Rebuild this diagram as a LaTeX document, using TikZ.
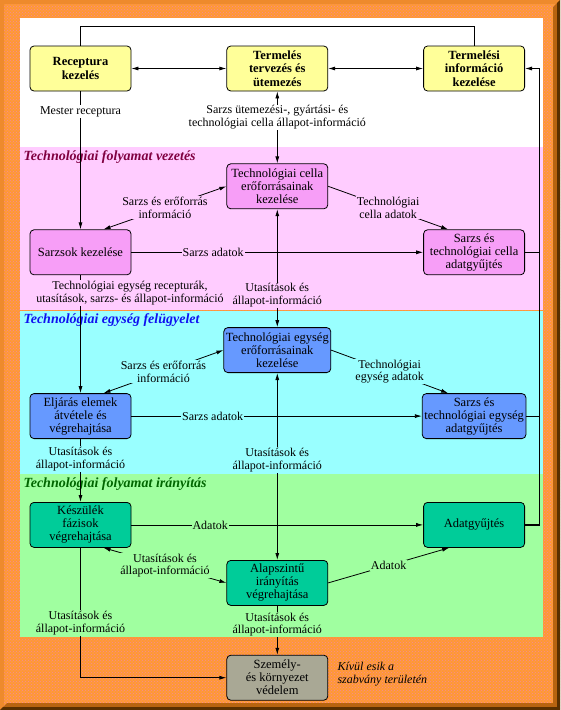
\documentclass[tikz,border=0pt]{standalone}
\usepackage{fontspec}
\setmainfont{Liberation Serif}
\usepackage{tikz}
\usetikzlibrary{arrows.meta,positioning,patterns}

\definecolor{framebg}{HTML}{FF9933}
\definecolor{framedot}{HTML}{F5889C}
\definecolor{edgedark}{HTML}{5A3000}
\definecolor{edgemid}{HTML}{B86410}
\definecolor{edgelight}{HTML}{EE8A2C}
\definecolor{topyellow}{HTML}{FFFF99}
\definecolor{pinkbg}{HTML}{FFCCFF}
\definecolor{pinkbox}{HTML}{F79EF7}
\definecolor{pinktxt}{HTML}{800040}
\definecolor{cyanbg}{HTML}{99FFFF}
\definecolor{bluebox}{HTML}{6699FF}
\definecolor{bluetxt}{HTML}{1010F0}
\definecolor{greenbg}{HTML}{A0FFA0}
\definecolor{tealbox}{HTML}{00CC99}
\definecolor{greentxt}{HTML}{006600}
\definecolor{graybox}{HTML}{A9A895}

\begin{document}
\begin{tikzpicture}[
  x=1pt, y=-1pt,
  font=\fontsize{12}{12.5}\selectfont,
  box/.style={draw, rounded corners=4pt, align=center, inner sep=2pt, minimum width=101pt, minimum height=45pt, line width=0.8pt, font=\fontsize{12.5}{13}\selectfont},
  topbox/.style={box, fill=topyellow, font=\fontsize{12.5}{13.5}\selectfont\bfseries},
  arr/.style={-{Latex[length=7pt,width=4pt]}, line width=0.8pt},
  arrs/.style={{Latex[length=7pt,width=4pt]}-{Latex[length=7pt,width=4pt]}, line width=0.8pt},
  lbl/.style={align=center, inner sep=1pt},
  band/.style={anchor=west, font=\fontsize{14}{15}\selectfont\bfseries\itshape}
]
  \useasboundingbox (0,0) rectangle (560,710);
  \fill[framebg] (0,0) rectangle (560,710);
  \fill[pattern=crosshatch dots, pattern color=framedot] (0,0) rectangle (560,710);
  \fill[edgelight] (0,0) -- (560,0) -- (556,4) -- (4,4) -- (4,706) -- (0,710) -- cycle;
  \fill[edgemid] (560,0) -- (560,710) -- (0,710) -- (7,703) -- (553,703) -- (553,7) -- cycle;
  \fill[edgedark] (560,0) -- (560,710) -- (0,710) -- (3,707) -- (557,707) -- (557,3) -- cycle;
  \fill[white] (20,18) rectangle (543,147);
  \fill[pinkbg] (20,147) rectangle (543,310);
  \fill[cyanbg] (20,311) rectangle (543,474);
  \fill[greenbg] (20,474) rectangle (543,637);

  \node[band, text=pinktxt] (lvez) at (20,157) {Technológiai folyamat vezetés};
  \node[band, text=bluetxt] (lfel) at (20,320) {Technológiai egység felügyelet};
  \node[band, text=greentxt] (lira) at (20,484) {Technológiai folyamat irányítás};

  \node[topbox] (rec) at (80.5,68.5) {Receptura\\kezelés};
  \node[topbox, right=95pt of rec] (terv) {Termelés\\tervezés és\\ütemezés};
  \node[topbox, right=95pt of terv] (info) {Termelési\\információ\\kezelése};

  \node[box, fill=pinkbox, below=72pt of terv] (cella) {Technológiai cella\\erőforrásainak\\kezelése};
  \node[box, fill=pinkbox, below=138pt of rec] (sarzs) {Sarzsok kezelése};
  \node[box, fill=pinkbox, below=138pt of info] (cadat) {Sarzs és\\technológiai cella\\adatgyűjtés};

  \node[box, fill=bluebox, below=118pt of cella] (egys) {Technológiai egység\\erőforrásainak\\kezelése};
  \node[box, fill=bluebox, below=118pt of sarzs] (eljaras) {Eljárás elemek\\átvétele és\\végrehajtása};
  \node[box, fill=bluebox, below=118pt of cadat] (eadat) {Sarzs és\\technológiai egység\\adatgyűjtés};

  \node[box, fill=tealbox, below=63pt of eljaras] (kesz) {Készülék\\fázisok\\végrehajtása};
  \node[box, fill=tealbox, below=63pt of eadat] (adat) {Adatgyűjtés};
  \node[box, fill=tealbox, below=187pt of egys] (alap) {Alapszintű\\irányítás\\végrehajtása};
  \node[box, fill=graybox, below=49pt of alap] (szem) {Személy-\\és környezet\\védelem};
  \node[anchor=west, align=left, font=\fontsize{12}{13}\selectfont\itshape] (kivul) at (334,674) {Kívül esik a\\szabvány területén};

  \coordinate (bus) at (539,0);
  \draw[line width=0.8pt] (rec.north) -- ++(0,-19) -| (info.north);
  \draw[arrs] (rec) -- (terv);
  \draw[arrs] (terv) -- (info);
  \draw[line width=2pt] (adat.east) -- (adat.east -| bus);
  \draw[arr] (adat.east) -- (adat.east -| bus) |- (info.east);
  \draw[line width=0.8pt] (cadat.east) -- (cadat.east -| bus);
  \draw[line width=0.8pt] (eadat.east) -- (eadat.east -| bus);

  \draw[arr] (rec) -- node[lbl, fill=white, pos=0.145]{Mester receptura} (sarzs);
  \draw[arrs] (terv) -- node[lbl, fill=white, pos=0.36]{Sarzs ütemezési-, gyártási- és\\technológiai cella állapot-információ} (cella);

  \draw[arrs] ([xshift=23pt]sarzs.north) -- node[lbl, fill=pinkbg]{Sarzs és erőforrás\\információ} (cella.west);
  \draw[arr] (cella.east) -- node[lbl, fill=pinkbg]{Technológiai\\cella adatok} ([xshift=-26pt]cadat.north);
  \draw[arr] (sarzs) -- node[lbl, fill=pinkbg, pos=0.28]{Sarzs adatok} (cadat);
  \draw[arrs] (cella) -- node[lbl, fill=pinkbg, pos=0.73]{Utasítások és\\állapot-információ} (egys);
  \draw[arr] (sarzs) -- (eljaras);
  \node[lbl, fill=pinkbg] (lrec) at (130,293) {Technológiai egység recepturák,\\utasítások, sarzs- és állapot-információ};

  \draw[arrs] ([xshift=23pt]eljaras.north) -- node[lbl, fill=cyanbg]{Sarzs és erőforrás\\információ} (egys.west);
  \draw[arr] (egys.east) -- node[lbl, fill=cyanbg]{Technológiai\\egység adatok} ([xshift=-26pt]eadat.north);
  \draw[arr] (eljaras) -- node[lbl, fill=cyanbg, pos=0.28]{Sarzs adatok} (eadat);
  \draw[arrs] (egys) -- node[lbl, fill=cyanbg, pos=0.465]{Utasítások és\\állapot-információ} (alap);
  \draw[arr] (eljaras) -- node[lbl, fill=cyanbg, pos=0.32]{Utasítások és\\állapot-információ} (kesz);

  \draw[arr] (kesz) -- node[lbl, fill=greenbg, pos=0.27]{Adatok} (adat);
  \draw[arr] (alap.east) -- node[lbl, fill=greenbg]{Adatok} ([xshift=-25pt]adat.south);
  \draw[arrs] ([xshift=23pt]kesz.south) -- node[lbl, fill=greenbg]{Utasítások és\\állapot-információ} (alap.west);
  \draw[arr] (kesz) |- node[lbl, fill=greenbg, pos=0.29]{Utasítások és\\állapot-információ} (szem);
  \draw[arr] (alap) -- node[lbl, fill=greenbg, pos=0.38]{Utasítások és\\állapot-információ} (szem);
\end{tikzpicture}
\end{document}
